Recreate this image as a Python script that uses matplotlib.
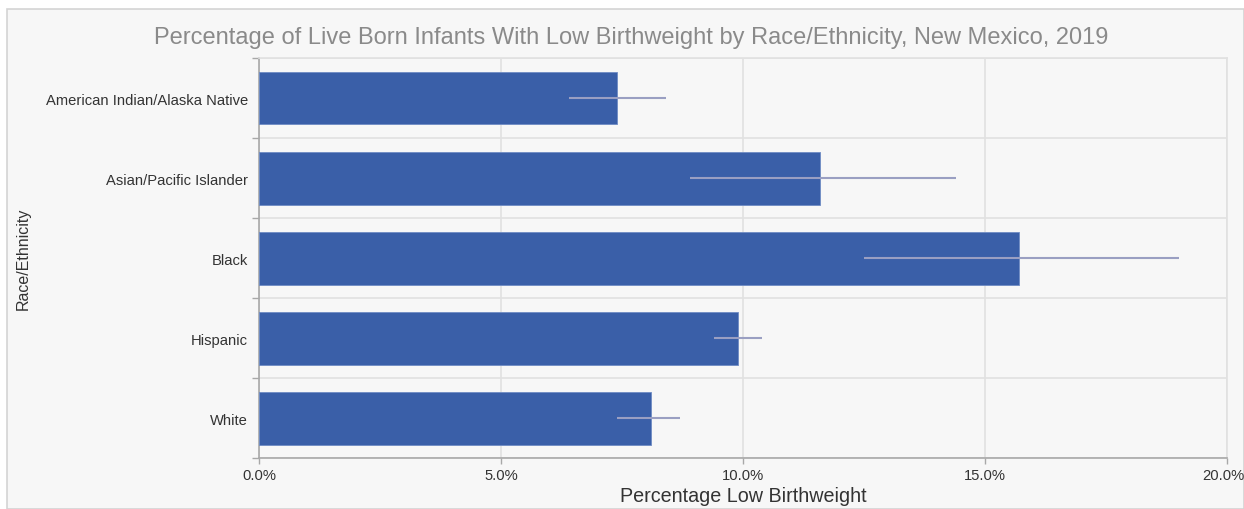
import numpy as np
import matplotlib.pyplot as plt
from matplotlib.patches import Rectangle
from matplotlib.ticker import FuncFormatter, FixedLocator
from matplotlib.transforms import ScaledTranslation

plt.rcParams['font.family'] = ['Liberation Sans', 'DejaVu Sans']

# low birthweight share (%) with confidence interval bounds
groups = ["American Indian/Alaska Native", "Asian/Pacific Islander", "Black",
          "Hispanic", "White"]
pct = [7.4, 11.6, 15.7, 9.9, 8.1]
ci_low = [6.4, 8.9, 12.5, 9.4, 7.4]
ci_high = [8.4, 14.4, 19.0, 10.4, 8.7]
xticks = [0, 5, 10, 15, 20]

bar_color = "#3a5fa8"
err_color = "#9a9fc2"
grid_color = "#e1e1e1"
spine_color = "#a8a8a8"
text_color = "#333333"

fig = plt.figure(figsize=(12.44, 5.10), dpi=100, facecolor="white")
# panel background with thin border
fig.patches.append(Rectangle((7 / 1244, 0), 1 - 7 / 1244, 1 - 10 / 510,
                             transform=fig.transFigure, facecolor="#f7f7f7",
                             edgecolor="#d4d4d4", linewidth=1.2, zorder=-10))

ax = fig.add_axes([259 / 1244, 1 - 459.3 / 510, 968 / 1244, 400.3 / 510])
ax.set_facecolor("#f7f7f7")

y = np.arange(len(groups))
ax.barh(y, pct, height=0.66, color=bar_color, edgecolor="#6f8cc4",
        linewidth=0.6, zorder=3)
pct_arr = np.array(pct)
xerr = np.vstack([pct_arr - np.array(ci_low), np.array(ci_high) - pct_arr])
ax.errorbar(pct, y, xerr=xerr, fmt="none", ecolor=err_color, elinewidth=1.5,
            capsize=0, zorder=4)

ax.set_ylim(len(groups) - 0.5, -0.5)
ax.set_xlim(0, 20)

ax.set_yticks(y)
ax.set_yticklabels(groups)
ax.yaxis.set_minor_locator(FixedLocator(np.arange(-0.5, len(groups), 1)))
ax.tick_params(axis="y", which="major", length=0, pad=8, labelsize=10.6,
               labelcolor=text_color)
ax.tick_params(axis="y", which="minor", length=5, width=1, color=spine_color)

ax.set_xticks(xticks)
ax.xaxis.set_major_formatter(FuncFormatter(lambda v, _: f"{v:.1f}%"))
ax.tick_params(axis="x", length=4, width=1, color=spine_color, pad=3,
               labelsize=10.6, labelcolor=text_color)
# keep the last tick label inside the figure edge
last = ax.get_xticklabels()[-1]
last.set_transform(last.get_transform()
                   + ScaledTranslation(-4 / 100, 0, fig.dpi_scale_trans))

ax.grid(axis="x", which="major", color=grid_color, linewidth=1.2, zorder=0)
ax.grid(axis="y", which="minor", color=grid_color, linewidth=1.2, zorder=0)
ax.set_axisbelow(True)

for side in ("top", "right"):
    ax.spines[side].set_color(grid_color)
    ax.spines[side].set_linewidth(1.2)
for side in ("left", "bottom"):
    ax.spines[side].set_color(spine_color)
    ax.spines[side].set_linewidth(1.2)

ax.set_xlabel("Percentage Low Birthweight", fontsize=14.2, color=text_color,
              labelpad=3)
ax.set_ylabel("Race/Ethnicity", fontsize=11.5, color=text_color)
ax.yaxis.set_label_coords((31 - 259) / 968, 0.5)

fig.text(631 / 1244, 1 - 38 / 510,
         "Percentage of Live Born Infants With Low Birthweight by "
         "Race/Ethnicity, New Mexico, 2019",
         ha="center", va="center", fontsize=17, color="#8a8a8a")

fig.savefig("out.png", dpi=100, facecolor=fig.get_facecolor())
